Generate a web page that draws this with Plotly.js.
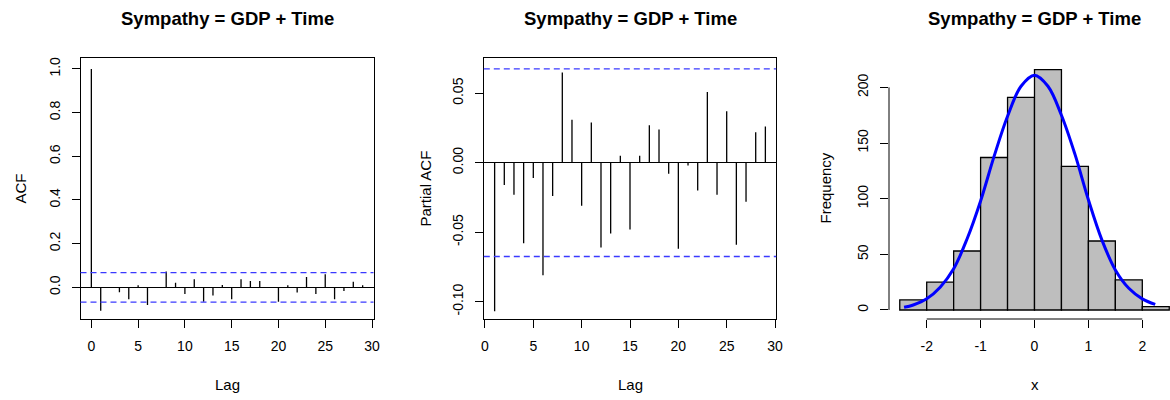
<!DOCTYPE html>
<html>
<head>
<meta charset="utf-8">
<script src="https://cdn.plot.ly/plotly-3.0.1.min.js"></script>
<style>
  html, body { margin: 0; padding: 0; background: #ffffff; }
  #chart { width: 1170px; height: 400px; }
</style>
</head>
<body>
<div id="chart"></div>
<script>
// Residual diagnostics for the model Sympathy = GDP + Time

const plotTitle = "Sympathy = GDP + Time";

// Autocorrelation of residuals, lags 0..29
const acfLags = [0, 1, 2, 3, 4, 5, 6, 7, 8, 9, 10, 11, 12, 13, 14, 15, 16, 17, 18, 19, 20, 21, 22, 23, 24, 25, 26, 27, 28, 29];
const acfValues = [1.0, -0.107, -0.003, -0.023, -0.055, 0.009, -0.081, 0.002, 0.072, 0.021,
                   -0.031, 0.037, -0.066, -0.037, 0.011, -0.055, 0.037, 0.029, 0.029, -0.002,
                   -0.066, 0.009, -0.024, 0.047, -0.031, 0.060, -0.055, -0.017, 0.026, 0.009];

// Partial autocorrelation of residuals, lags 1..29
const pacfLags = [1, 2, 3, 4, 5, 6, 7, 8, 9, 10, 11, 12, 13, 14, 15, 16, 17, 18, 19, 20, 21, 22, 23, 24, 25, 26, 27, 28, 29];
const pacfValues = [-0.107, -0.016, -0.023, -0.058, -0.011, -0.081, -0.024, 0.065, 0.031, -0.031,
                    0.029, -0.061, -0.051, 0.005, -0.048, 0.005, 0.027, 0.024, -0.008, -0.062,
                    -0.002, -0.020, 0.051, -0.023, 0.037, -0.059, -0.028, 0.022, 0.026];

// 95% significance bound
const ciBound = 0.0675;

// Histogram of residuals
const histBreaks = [-2.5, -2, -1.5, -1, -0.5, 0, 0.5, 1, 1.5, 2, 2.5];
const histCounts = [9, 25, 53, 137, 191, 216, 129, 62, 27, 3];

// Fitted normal curve, scaled to counts
const curveX = [-2.42, -2.25, -2.0, -1.75, -1.5, -1.25, -1.0, -0.75, -0.5, -0.25, 0.0,
                0.25, 0.5, 0.75, 1.0, 1.25, 1.5, 1.75, 2.0, 2.24];
const curveY = [2.4, 4.5, 10, 20.5, 37, 64, 98, 138, 174, 201, 211,
                201, 175, 140, 99, 63, 36, 19.5, 10, 5];

// Tick labels
const lagTicks = [0, 5, 10, 15, 20, 25, 30];
const lagTickText = ["0", "5", "10", "15", "20", "25", "30"];
const acfTicks = [0, 0.2, 0.4, 0.6, 0.8, 1.0];
const acfTickText = ["0.0", "0.2", "0.4", "0.6", "0.8", "1.0"];
const pacfTicks = [-0.10, -0.05, 0.00, 0.05];
const pacfTickText = ["-0.10", "-0.05", "0.00", "0.05"];
const histXTicks = [-2, -1, 0, 1, 2];
const histXTickText = ["-2", "-1", "0", "1", "2"];
const histYTicks = [0, 50, 100, 150, 200];
const histYTickText = ["0", "50", "100", "150", "200"];

// ---- layout helpers (pixel -> paper) ----
const W = 1170, H = 400;
const FONT = "Liberation Sans, Arial, Helvetica, sans-serif";
const px = (a, b) => [a / W, b / W];
const py = (top, bottom) => [1 - bottom / H, 1 - top / H];
const PLOT_TOP = 58, PLOT_BOTTOM = 319;

// vertical stems from zero to each value, separated by gaps
function stems(lags, vals) {
  const xs = [], ys = [];
  lags.forEach((l, i) => { xs.push(l, l, null); ys.push(0, vals[i], null); });
  return { xs, ys };
}

const acfStem = stems(acfLags, acfValues);
const pacfStem = stems(pacfLags, pacfValues);
const binMid = histCounts.map((_, i) => (histBreaks[i] + histBreaks[i + 1]) / 2);
const binWidth = histCounts.map((_, i) => histBreaks[i + 1] - histBreaks[i]);

const traces = [
  { x: acfStem.xs, y: acfStem.ys, xaxis: "x", yaxis: "y", type: "scatter", mode: "lines",
    line: { color: "#000000", width: 1.3 }, hoverinfo: "skip", showlegend: false },
  { x: pacfStem.xs, y: pacfStem.ys, xaxis: "x2", yaxis: "y2", type: "scatter", mode: "lines",
    line: { color: "#000000", width: 1.3 }, hoverinfo: "skip", showlegend: false },
  { x: binMid, y: histCounts, width: binWidth, xaxis: "x3", yaxis: "y3", type: "bar",
    marker: { color: "#bebebe", line: { color: "#000000", width: 1.3 } }, showlegend: false },
  { x: curveX, y: curveY, xaxis: "x3", yaxis: "y3", type: "scatter", mode: "lines",
    line: { color: "#0000ff", width: 3, shape: "spline", smoothing: 1 }, showlegend: false }
];

const tickFont = { family: FONT, size: 14, color: "#000000" };
const boxAxis = {
  showgrid: false, zeroline: false, showline: true, mirror: true,
  linecolor: "#000000", linewidth: 1, ticks: "outside", ticklen: 8, tickwidth: 1,
  tickcolor: "#000000", tickfont: tickFont, tickmode: "array", fixedrange: true
};

const ciLine = (xa, ya, v) => ({
  type: "line", xref: xa + " domain", yref: ya, x0: 0, x1: 1, y0: v, y1: v,
  line: { color: "#3a3aff", width: 1.3, dash: "6px,4px" }
});

const layout = {
  width: W, height: H,
  margin: { l: 0, r: 0, t: 0, b: 0 },
  paper_bgcolor: "#ffffff", plot_bgcolor: "#ffffff",
  bargap: 0,
  showlegend: false,
  font: { family: FONT, color: "#000000" },

  xaxis: Object.assign({}, boxAxis, { domain: px(80.5, 373.5), range: [-1.16, 30.16],
    tickvals: lagTicks, ticktext: lagTickText, anchor: "y", ticklabelstandoff: 6 }),
  yaxis: Object.assign({}, boxAxis, { domain: py(PLOT_TOP, PLOT_BOTTOM), range: [-0.145, 1.05],
    tickvals: acfTicks, ticktext: acfTickText, tickangle: -90, anchor: "x",
    zeroline: true, zerolinecolor: "#000000", zerolinewidth: 1, ticklabelstandoff: 6 }),

  xaxis2: Object.assign({}, boxAxis, { domain: px(483.8, 776.2), range: [-0.12, 30.12],
    tickvals: lagTicks, ticktext: lagTickText, anchor: "y2", ticklabelstandoff: 6 }),
  yaxis2: Object.assign({}, boxAxis, { domain: py(PLOT_TOP, PLOT_BOTTOM), range: [-0.1125, 0.0754],
    tickvals: pacfTicks, ticktext: pacfTickText, tickangle: -90, anchor: "x2",
    zeroline: true, zerolinecolor: "#000000", zerolinewidth: 1, ticklabelstandoff: 6 }),

  xaxis3: Object.assign({}, boxAxis, { domain: px(889, 1170), range: [-2.6995, 2.514],
    showline: false, mirror: false,
    tickvals: histXTicks, ticktext: histXTickText, anchor: "y3", ticklabelstandoff: 6 }),
  yaxis3: Object.assign({}, boxAxis, { domain: py(PLOT_TOP, PLOT_BOTTOM), range: [-8.1, 226.4],
    showline: false, mirror: false,
    tickvals: histYTicks, ticktext: histYTickText, tickangle: -90, anchor: "x3", ticklabelstandoff: 6 }),

  shapes: [
    ciLine("x", "y", ciBound), ciLine("x", "y", -ciBound),
    ciLine("x2", "y2", ciBound), ciLine("x2", "y2", -ciBound),
    // histogram axis lines span only the tick range
    { type: "line", xref: "x3", yref: "y3 domain", x0: histXTicks[0], x1: histXTicks[histXTicks.length - 1],
      y0: 0, y1: 0, line: { color: "#000000", width: 1 } },
    { type: "line", xref: "x3 domain", yref: "y3", x0: 0, x1: 0,
      y0: histYTicks[0], y1: histYTicks[histYTicks.length - 1], line: { color: "#000000", width: 1 } }
  ],

  annotations: [
    // panel titles
    ...[227, 630, 1034.5].map(cx => ({
      text: "<b>" + plotTitle + "</b>", xref: "paper", yref: "paper",
      x: cx / W, y: 1 - 18 / H, xanchor: "center", yanchor: "middle", showarrow: false,
      font: { family: FONT, size: 18.5, color: "#000000" }
    })),
    // axis titles
    { text: "Lag", x: 227 / W, y: 1 - 384 / H },
    { text: "Lag", x: 630 / W, y: 1 - 384 / H },
    { text: "x", x: 1034.5 / W, y: 1 - 384 / H },
    { text: "ACF", x: 20 / W, y: 1 - 188.5 / H, textangle: -90 },
    { text: "Partial ACF", x: 425 / W, y: 1 - 188.5 / H, textangle: -90 },
    { text: "Frequency", x: 825 / W, y: 1 - 188.5 / H, textangle: -90 }
  ].map(a => a.xref ? a : Object.assign({
    xref: "paper", yref: "paper", xanchor: "center", yanchor: "middle", showarrow: false,
    font: { family: FONT, size: 15, color: "#000000" }
  }, a))
};

Plotly.newPlot("chart", traces, layout, { staticPlot: true, displayModeBar: false });
</script>
</body>
</html>
